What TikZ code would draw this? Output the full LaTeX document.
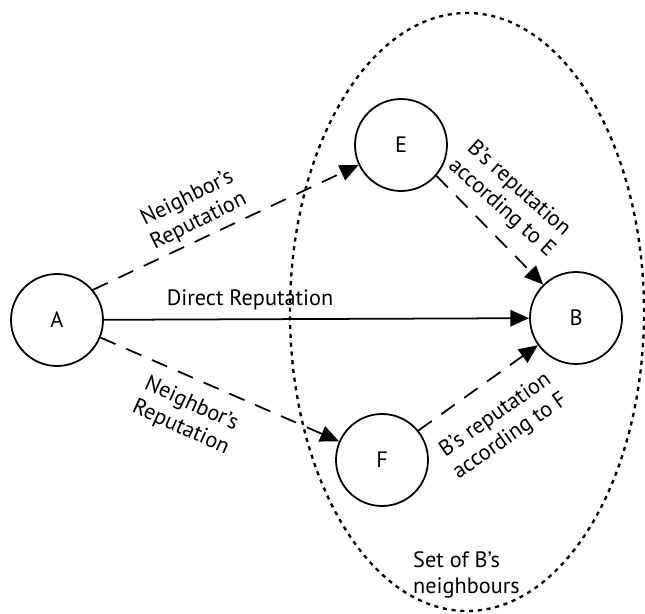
\documentclass[tikz,border=0pt]{standalone}
\usepackage{fontspec}
\setmainfont{PT Sans}
\usetikzlibrary{arrows.meta,shapes.geometric}

\begin{document}
\begin{tikzpicture}[x=0.03cm, y=0.03cm, font=\fontsize{19}{22}\selectfont,
  >={Triangle[length=16pt, width=14pt]},
  peer/.style={draw, circle, line width=1.5pt, minimum size=2.76cm, inner sep=0pt},
  rep/.style={->, line width=1.5pt},
  hint/.style={rep, dash pattern=on 14pt off 10pt},
  lbl/.style={align=center, inner sep=0pt}]

  \useasboundingbox (0,0) rectangle (645,613);

  % Nachbarschaft von B
  \node[draw, ellipse, line width=2pt, dash pattern=on 3.5pt off 4pt,
        minimum width=10.62cm, minimum height=17.94cm, inner sep=0pt] (hood) at (467,301) {};

  % Knoten
  \node[peer] (A) at (57,293) {A};
  \node[peer] (E) at (401,468) {E};
  \node[peer] (B) at (576,295) {B};
  \node[peer] (F) at (382,153) {F};

  % Kanten
  \draw[rep] (A) -- (B);
  \draw[hint] (A.40) -- (E);
  \draw[hint] (A.-22) -- (F);
  \draw[hint] (E.-41) -- (B);
  \draw[hint] (F.39) -- (B);

  % Beschriftungen
  \node[lbl] (direct) at (250,313) {Direct Reputation};
  \node[lbl, rotate=26.5] (viaE) at (193,403) {Neighbor's\\Reputation};
  \node[lbl, rotate=-24.5] (viaF) at (186,197) {Neighbor's\\Reputation};
  \node[lbl, rotate=-42] (repE) at (510,414) {B's reputation\\according to E};
  \node[lbl, rotate=35] (repF) at (503,187) {B's reputation\\according to F};
  \node[lbl, align=left, anchor=west] (set) at (413,38) {Set of B's\\neighbours};
\end{tikzpicture}
\end{document}
